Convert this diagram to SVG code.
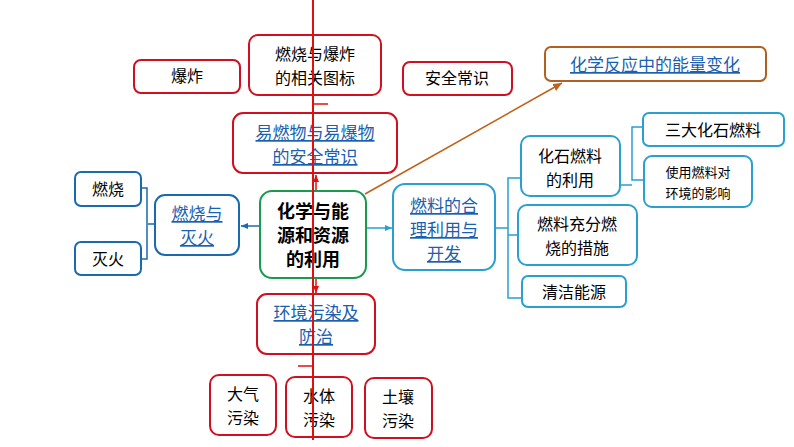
<svg xmlns="http://www.w3.org/2000/svg" width="794" height="447" viewBox="0 0 794 447">
<style>
text{font-family:"Noto Sans CJK SC","Liberation Serif",serif;fill:#000;text-anchor:middle}
.r{fill:#fff;stroke:#d01020;stroke-width:2}
.b{fill:#fff;stroke:#1a6ab0;stroke-width:2}
.c{fill:#fff;stroke:#2aa0d0;stroke-width:2}
.l{fill:#1a5fb0;text-decoration:underline;font-size:17px}
.t{font-size:16px}
</style>
<defs>
<marker id="ab" markerWidth="8" markerHeight="8" refX="7" refY="4" orient="auto" markerUnits="userSpaceOnUse"><path d="M0,1L7,4L0,7z" fill="#1a6ab0"/></marker>
<marker id="ac" markerWidth="8" markerHeight="8" refX="7" refY="4" orient="auto" markerUnits="userSpaceOnUse"><path d="M0,1L7,4L0,7z" fill="#2aa0d0"/></marker>
<marker id="ao" markerWidth="10" markerHeight="10" refX="9" refY="5" orient="auto" markerUnits="userSpaceOnUse"><path d="M0,1L9,5L0,9z" fill="#c0601a"/></marker>
<marker id="ar" markerWidth="8" markerHeight="8" refX="7" refY="4" orient="auto" markerUnits="userSpaceOnUse"><path d="M0,1L7,4L0,7z" fill="#e01010"/></marker>
</defs>
<g id="n-baozha"><rect class="r" x="134" y="60" width="106" height="33" rx="7"/><text class="t" x="187" y="82">爆炸</text></g>
<g id="n-tubiao"><rect class="r" x="249" y="35" width="132" height="60" rx="9"/><text class="t" x="315" y="60">燃烧与爆炸</text><text class="t" x="315" y="84">的相关图标</text></g>
<g id="n-anquan"><rect class="r" x="403" y="62" width="109" height="33" rx="7"/><text class="t" x="457" y="84">安全常识</text></g>
<g id="n-yiran"><rect class="r" x="233" y="113" width="164" height="60" rx="10"/><text class="l" x="315" y="139">易燃物与易爆物</text><text class="l" x="315" y="163">的安全常识</text></g>
<g id="n-center"><rect x="260" y="191" width="106" height="87" rx="12" fill="#fff" stroke="#1a9a50" stroke-width="2"/><text x="313" y="218" font-size="18" font-weight="bold">化学与能</text><text x="313" y="242" font-size="18" font-weight="bold">源和资源</text><text x="313" y="266" font-size="18" font-weight="bold">的利用</text></g>
<g id="n-ranshao-mh"><rect class="b" x="155" y="195" width="84" height="60" rx="10"/><text class="l" x="197" y="220">燃烧与</text><text class="l" x="197" y="244">灭火</text></g>
<g id="n-ranshao"><rect class="b" x="75" y="172" width="66" height="34" rx="6"/><text class="t" x="108" y="195">燃烧</text></g>
<g id="n-miehuo"><rect class="b" x="75" y="242" width="66" height="33" rx="6"/><text class="t" x="108" y="265">灭火</text></g>
<g id="n-ranliao"><rect class="c" x="393" y="184" width="102" height="86" rx="12"/><text class="l" x="444" y="212">燃料的合</text><text class="l" x="444" y="236">理利用与</text><text class="l" x="444" y="260">开发</text></g>
<g id="n-huashi"><rect class="c" x="521" y="136" width="99" height="60" rx="9"/><text class="t" x="570" y="162">化石燃料</text><text class="t" x="570" y="186">的利用</text></g>
<g id="n-sanda"><rect class="c" x="643" y="113" width="141" height="33" rx="6"/><text class="t" x="713" y="136">三大化石燃料</text></g>
<g id="n-yingxiang"><rect class="c" x="644" y="156" width="108" height="51" rx="8"/><text x="698" y="177" font-size="13">使用燃料对</text><text x="698" y="198" font-size="13">环境的影响</text></g>
<g id="n-chongfen"><rect class="c" x="518" y="205" width="119" height="60" rx="9"/><text class="t" x="577" y="230">燃料充分燃</text><text class="t" x="577" y="254">烧的措施</text></g>
<g id="n-qingjie"><rect class="c" x="522" y="276" width="104" height="31" rx="6"/><text class="t" x="574" y="298">清洁能源</text></g>
<g id="n-nengliang"><rect x="545" y="47" width="221" height="34" rx="6" fill="#fff" stroke="#b06020" stroke-width="2"/><text class="l" x="655" y="71">化学反应中的能量变化</text></g>
<g id="n-huanjing"><rect class="r" x="257" y="294" width="118" height="60" rx="10"/><text class="l" x="316" y="319">环境污染及</text><text class="l" x="316" y="343">防治</text></g>
<g id="n-daqi"><rect class="r" x="210" y="375" width="66" height="60" rx="9"/><text class="t" x="243" y="400">大气</text><text class="t" x="243" y="424">污染</text></g>
<g id="n-shuiti"><rect class="r" x="286" y="377" width="66" height="60" rx="9"/><text class="t" x="319" y="402">水体</text><text class="t" x="319" y="426">污染</text></g>
<g id="n-turang"><rect class="r" x="365" y="378" width="67" height="60" rx="9"/><text class="t" x="398" y="403">土壤</text><text class="t" x="398" y="427">污染</text></g>
<g id="connectors" fill="none">
<line x1="259" y1="226" x2="241" y2="226" stroke="#1a6ab0" stroke-width="1.5" marker-end="url(#ab)"/>
<path d="M154 224H148M142 188H147V259H142" stroke="#1a6ab0" stroke-width="1.5"/>
<line x1="367" y1="228" x2="392" y2="228" stroke="#2aa0d0" stroke-width="1.5" marker-end="url(#ac)"/>
<path d="M496 228H508M520 178H508V298H521M508 235H517" stroke="#2aa0d0" stroke-width="1.5"/>
<path d="M621 185H632M642 127H632V180H643" stroke="#2aa0d0" stroke-width="1.5"/>
<line x1="365" y1="194" x2="562" y2="83" stroke="#c0601a" stroke-width="1.5" marker-end="url(#ao)"/>
<line x1="316" y1="190" x2="316" y2="175" stroke="#e01010" stroke-width="1.5" marker-end="url(#ar)"/>
<line x1="316" y1="279" x2="316" y2="293" stroke="#e01010" stroke-width="1.5" marker-end="url(#ar)"/>
<line x1="313" y1="0" x2="313" y2="440" stroke="#e01010" stroke-width="2"/>
<path d="M313 104H328M313 366H298" stroke="#e01010" stroke-width="1.5"/>
</g>
</svg>
